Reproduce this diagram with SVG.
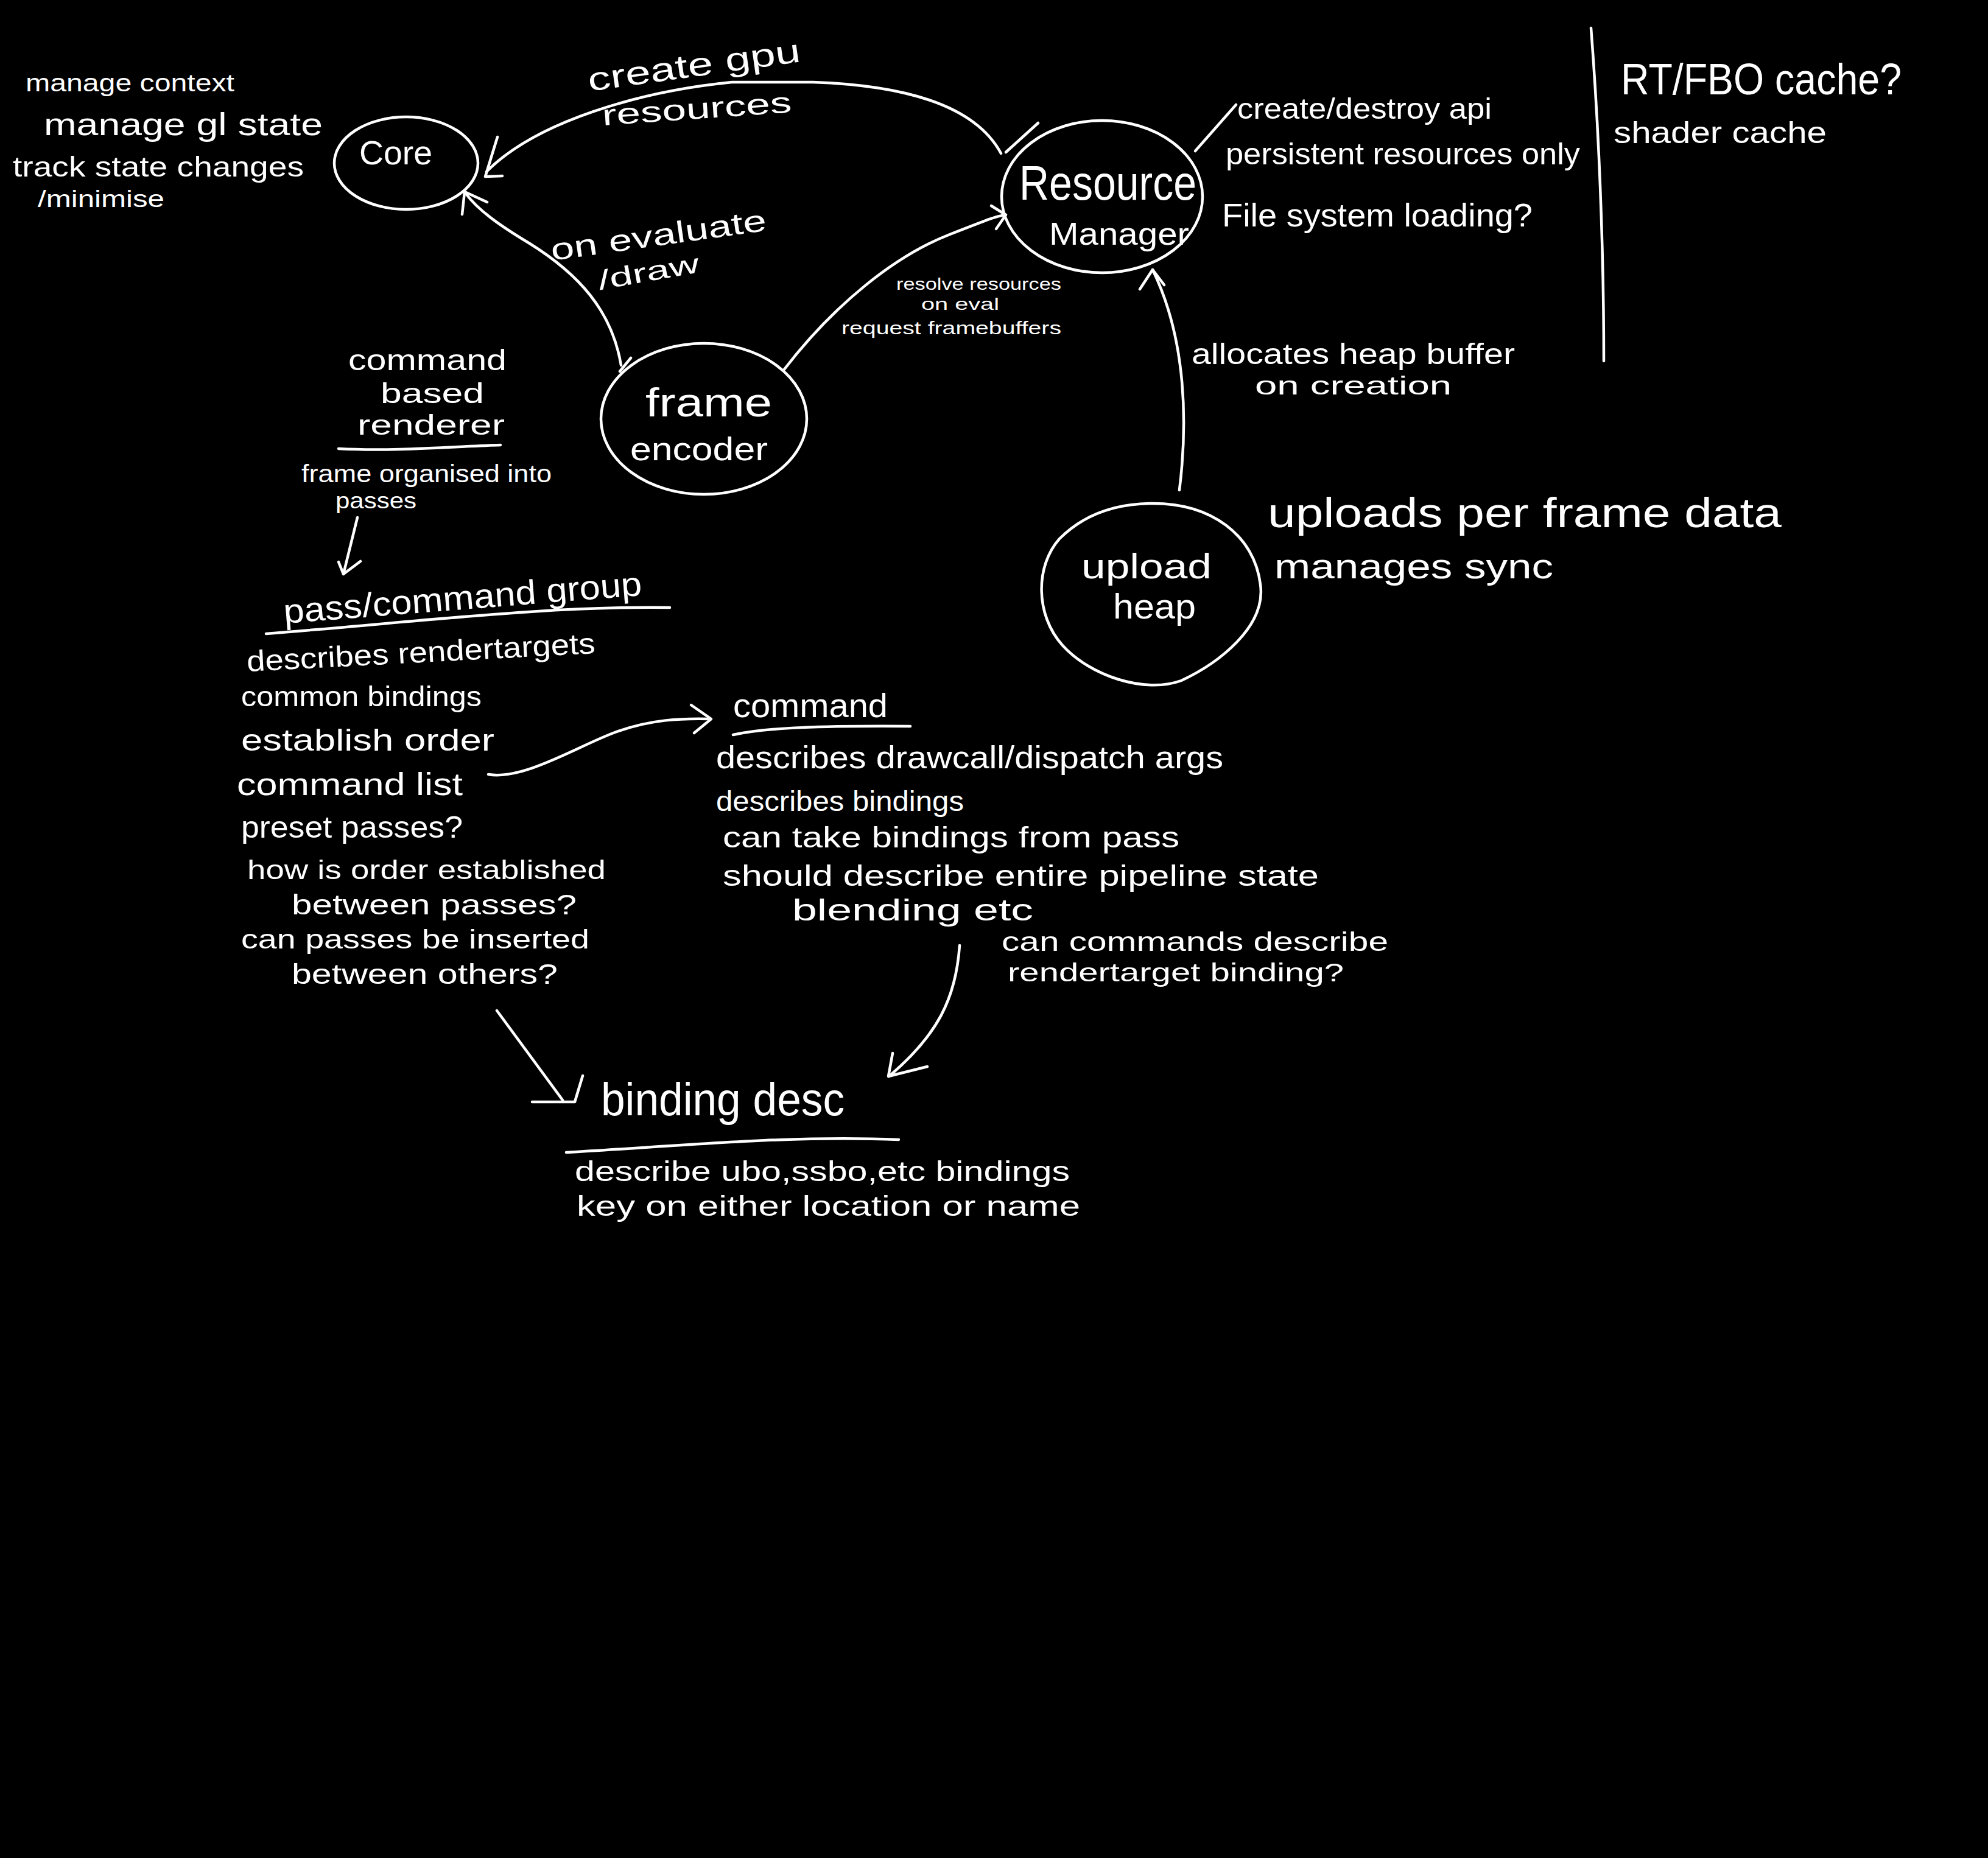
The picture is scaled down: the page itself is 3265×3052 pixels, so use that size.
<svg xmlns="http://www.w3.org/2000/svg" width="3265" height="3052" viewBox="0 0 3265 3052">
<style>
text{fill:#fff;font-family:"Liberation Sans","DejaVu Sans",sans-serif;}
.ln{fill:none;stroke:#fff;stroke-width:4.5;stroke-linecap:round;stroke-linejoin:round;}
</style>
<rect x="0" y="0" width="3265" height="3052" fill="#000"/>

<g id="core-notes">
<text x="42" y="150" font-size="40" textLength="343" lengthAdjust="spacingAndGlyphs">manage context</text>
<text x="72" y="222" font-size="52" textLength="458" lengthAdjust="spacingAndGlyphs">manage gl state</text>
<text x="21" y="290" font-size="46" textLength="478" lengthAdjust="spacingAndGlyphs">track state changes</text>
<text x="62" y="340" font-size="38" textLength="208" lengthAdjust="spacingAndGlyphs">/minimise</text>
</g>

<g id="core">
<ellipse class="ln" cx="667" cy="268" rx="118" ry="76"/>
<text x="590" y="270" font-size="56" textLength="120" lengthAdjust="spacingAndGlyphs">Core</text>
</g>

<g id="resource-manager">
<ellipse class="ln" cx="1810" cy="323" rx="165" ry="125"/>
<text x="1674" y="328" font-size="80" textLength="291" lengthAdjust="spacingAndGlyphs">Resource</text>
<text x="1723" y="402" font-size="52" textLength="230" lengthAdjust="spacingAndGlyphs">Manager</text>
</g>

<g id="resource-notes">
<text x="2032" y="195" font-size="48" textLength="418" lengthAdjust="spacingAndGlyphs">create/destroy api</text>
<text x="2013" y="270" font-size="50" textLength="582" lengthAdjust="spacingAndGlyphs">persistent resources only</text>
<text x="2007" y="372" font-size="54" textLength="510" lengthAdjust="spacingAndGlyphs">File system loading?</text>
</g>

<g id="cache-notes">
<text x="2662" y="155" font-size="72" textLength="461" lengthAdjust="spacingAndGlyphs">RT/FBO cache?</text>
<text x="2650" y="235" font-size="50" textLength="350" lengthAdjust="spacingAndGlyphs">shader cache</text>
</g>

<g id="frame-encoder">
<ellipse class="ln" cx="1156" cy="688" rx="169" ry="124"/>
<text x="1060" y="684" font-size="66" textLength="208" lengthAdjust="spacingAndGlyphs">frame</text>
<text x="1035" y="756" font-size="54" textLength="226" lengthAdjust="spacingAndGlyphs">encoder</text>
</g>

<g id="upload-heap">
<path class="ln" d="M 1888 827 C 1990 825 2060 880 2070 960 C 2080 1030 2000 1090 1940 1118 C 1880 1140 1790 1110 1745 1060 C 1700 1010 1700 930 1740 885 C 1780 845 1830 828 1888 827 Z"/>
<text x="1776" y="950" font-size="58" textLength="214" lengthAdjust="spacingAndGlyphs">upload</text>
<text x="1828" y="1016" font-size="58" textLength="136" lengthAdjust="spacingAndGlyphs">heap</text>
</g>

<g id="upload-notes">
<text x="2082" y="866" font-size="68" textLength="844" lengthAdjust="spacingAndGlyphs">uploads per frame data</text>
<text x="2093" y="950" font-size="58" textLength="458" lengthAdjust="spacingAndGlyphs">manages sync</text>
</g>

<g id="renderer-title">
<text x="572" y="608" font-size="48" textLength="260" lengthAdjust="spacingAndGlyphs">command</text>
<text x="625" y="662" font-size="46" textLength="170" lengthAdjust="spacingAndGlyphs">based</text>
<text x="587" y="714" font-size="46" textLength="242" lengthAdjust="spacingAndGlyphs">renderer</text>
<path class="ln" d="M 556 737 C 650 742 750 733 822 731"/>
<text x="495" y="792" font-size="40" textLength="411" lengthAdjust="spacingAndGlyphs">frame organised into</text>
<text x="551" y="835" font-size="36" textLength="133" lengthAdjust="spacingAndGlyphs">passes</text>
</g>

<g id="pass-group">
<text x="467" y="1024" font-size="56" textLength="590" lengthAdjust="spacingAndGlyphs" transform="rotate(-4.5 467 1024)">pass/command group</text>
<path class="ln" d="M 437 1041 C 700 1020 900 995 1100 998"/>
<text x="406" y="1103" font-size="48" textLength="573" lengthAdjust="spacingAndGlyphs" transform="rotate(-3 406 1103)">describes rendertargets</text>
<text x="396" y="1160" font-size="46" textLength="395" lengthAdjust="spacingAndGlyphs">common bindings</text>
<text x="396" y="1233" font-size="50" textLength="416" lengthAdjust="spacingAndGlyphs">establish order</text>
<text x="389" y="1306" font-size="52" textLength="371" lengthAdjust="spacingAndGlyphs">command list</text>
<text x="396" y="1376" font-size="50" textLength="364" lengthAdjust="spacingAndGlyphs">preset passes?</text>
<text x="406" y="1444" font-size="44" textLength="589" lengthAdjust="spacingAndGlyphs">how is order established</text>
<text x="479" y="1502" font-size="46" textLength="468" lengthAdjust="spacingAndGlyphs">between passes?</text>
<text x="396" y="1558" font-size="44" textLength="572" lengthAdjust="spacingAndGlyphs">can passes be inserted</text>
<text x="479" y="1616" font-size="46" textLength="437" lengthAdjust="spacingAndGlyphs">between others?</text>
</g>

<g id="command">
<text x="1204" y="1178" font-size="56" textLength="254" lengthAdjust="spacingAndGlyphs">command</text>
<path class="ln" d="M 1204 1207 C 1260 1195 1350 1192 1495 1193"/>
<text x="1176" y="1262" font-size="52" textLength="833" lengthAdjust="spacingAndGlyphs">describes drawcall/dispatch args</text>
<text x="1176" y="1332" font-size="46" textLength="407" lengthAdjust="spacingAndGlyphs">describes bindings</text>
<text x="1187" y="1392" font-size="48" textLength="750" lengthAdjust="spacingAndGlyphs">can take bindings from pass</text>
<text x="1187" y="1455" font-size="48" textLength="979" lengthAdjust="spacingAndGlyphs">should describe entire pipeline state</text>
<text x="1301" y="1512" font-size="50" textLength="396" lengthAdjust="spacingAndGlyphs">blending etc</text>
<text x="1645" y="1562" font-size="44" textLength="635" lengthAdjust="spacingAndGlyphs">can commands describe</text>
<text x="1655" y="1612" font-size="42" textLength="552" lengthAdjust="spacingAndGlyphs">rendertarget binding?</text>
</g>

<g id="binding-desc">
<text x="987" y="1832" font-size="76" textLength="400" lengthAdjust="spacingAndGlyphs">binding desc</text>
<path class="ln" d="M 930 1893 C 1150 1880 1300 1865 1476 1872"/>
<text x="944" y="1940" font-size="46" textLength="813" lengthAdjust="spacingAndGlyphs">describe ubo,ssbo,etc bindings</text>
<text x="947" y="1997" font-size="46" textLength="827" lengthAdjust="spacingAndGlyphs">key on either location or name</text>
</g>

<g id="connectors">
<path class="ln" d="M 1644 252 C 1600 170 1480 140 1335 135 L 1202 135 C 1050 150 880 200 799 282"/>
<path class="ln" d="M 817 225 L 797 290 L 825 289"/>
<path class="ln" d="M 1705 202 L 1652 250"/>
<text x="968" y="150" font-size="54" textLength="352" lengthAdjust="spacingAndGlyphs" transform="rotate(-8 968 150)">create gpu</text>
<text x="990" y="206" font-size="48" textLength="312" lengthAdjust="spacingAndGlyphs" transform="rotate(-4 990 206)">resources</text>

<path class="ln" d="M 1020 600 C 1005 510 950 450 870 400 C 820 370 785 345 765 318"/>
<path class="ln" d="M 759 352 L 763 315 L 800 332"/>
<path class="ln" d="M 1036 588 L 1018 610"/>
<text x="907" y="428" font-size="50" textLength="357" lengthAdjust="spacingAndGlyphs" transform="rotate(-8 907 428)">on evaluate</text>
<text x="985" y="476" font-size="44" textLength="168" lengthAdjust="spacingAndGlyphs" transform="rotate(-10 985 476)">/draw</text>

<path class="ln" d="M 1287 608 C 1370 500 1470 420 1560 385 S 1630 358 1650 353"/>
<path class="ln" d="M 1628 338 L 1652 353 L 1636 376"/>
<text x="1472" y="476" font-size="28" textLength="271" lengthAdjust="spacingAndGlyphs">resolve resources</text>
<text x="1513" y="509" font-size="28" textLength="128" lengthAdjust="spacingAndGlyphs">on eval</text>
<text x="1382" y="549" font-size="30" textLength="361" lengthAdjust="spacingAndGlyphs">request framebuffers</text>

<path class="ln" d="M 1937 805 C 1950 700 1950 560 1893 443"/>
<path class="ln" d="M 1872 475 L 1893 443 L 1912 468"/>
<text x="1957" y="598" font-size="48" textLength="531" lengthAdjust="spacingAndGlyphs">allocates heap buffer</text>
<text x="2061" y="648" font-size="42" textLength="323" lengthAdjust="spacingAndGlyphs">on creation</text>

<path class="ln" d="M 1963 248 L 2030 172"/>
<path class="ln" d="M 2613 46 C 2625 200 2634 400 2634 593"/>

<path class="ln" d="M 587 850 L 564 943"/>
<path class="ln" d="M 556 923 L 564 943 L 592 922"/>

<path class="ln" d="M 802 1272 C 860 1282 950 1225 1010 1203 S 1120 1180 1166 1181"/>
<path class="ln" d="M 1135 1158 L 1168 1181 L 1140 1204"/>

<path class="ln" d="M 816 1660 L 924 1807"/>
<path class="ln" d="M 874 1810 L 944 1810 L 957 1767"/>

<path class="ln" d="M 1576 1553 C 1570 1640 1540 1700 1460 1768"/>
<path class="ln" d="M 1466 1730 L 1459 1768 L 1523 1752"/>
</g>
</svg>
